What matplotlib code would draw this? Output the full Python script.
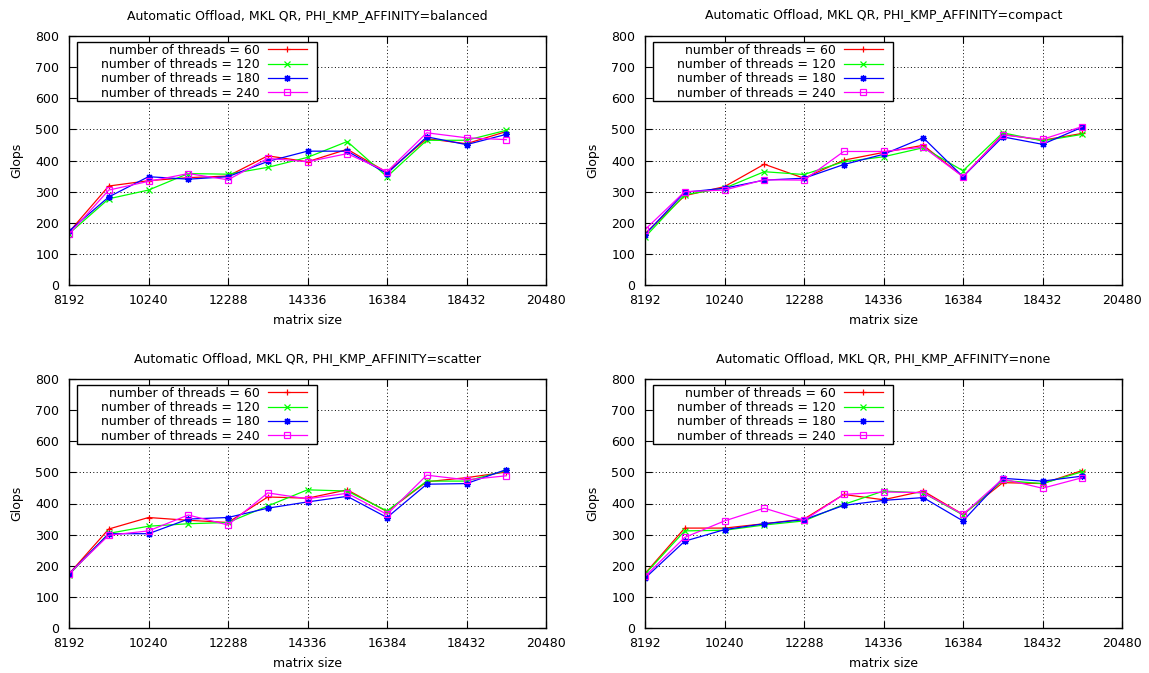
import matplotlib
matplotlib.use("Agg")
import matplotlib.pyplot as plt
from matplotlib.legend_handler import HandlerLine2D

# matrix sizes (x)
sizes = [8192, 9216, 10240, 11264, 12288, 13312, 14336, 15360, 16384, 17408, 18432, 19456]
threads = [60, 120, 180, 240]
affinities = ["balanced", "compact", "scatter", "none"]

# Glops per affinity, one list per thread count (60, 120, 180, 240)
balanced_60 = [170, 318, 335, 345, 350, 415, 396, 436, 362, 470, 454, 493]
balanced_120 = [165, 277, 305, 358, 356, 378, 410, 461, 348, 465, 465, 497]
balanced_180 = [173, 283, 348, 340, 348, 397, 430, 430, 358, 476, 451, 484]
balanced_240 = [163, 305, 333, 358, 338, 407, 396, 422, 364, 489, 473, 467]

compact_60 = [165, 287, 316, 388, 343, 401, 426, 449, 348, 484, 465, 487]
compact_120 = [154, 290, 311, 364, 355, 396, 412, 441, 367, 489, 463, 484]
compact_180 = [162, 298, 311, 337, 343, 387, 420, 473, 348, 476, 452, 507]
compact_240 = [178, 300, 305, 338, 337, 429, 429, 443, 348, 482, 468, 509]

scatter_60 = [174, 318, 355, 346, 339, 421, 417, 444, 374, 470, 483, 501]
scatter_120 = [171, 304, 327, 335, 339, 392, 444, 440, 376, 472, 472, 506]
scatter_180 = [174, 303, 303, 350, 355, 385, 405, 423, 355, 462, 464, 509]
scatter_240 = [174, 298, 312, 363, 331, 434, 415, 433, 365, 491, 476, 489]

none_60 = [175, 321, 321, 335, 350, 429, 412, 440, 365, 467, 464, 506]
none_120 = [173, 312, 314, 331, 344, 397, 440, 434, 363, 474, 464, 502]
none_180 = [160, 279, 316, 335, 348, 394, 410, 419, 344, 481, 472, 488]
none_240 = [166, 291, 344, 385, 346, 429, 437, 435, 365, 479, 449, 483]

data = {
    "balanced": [balanced_60, balanced_120, balanced_180, balanced_240],
    "compact": [compact_60, compact_120, compact_180, compact_240],
    "scatter": [scatter_60, scatter_120, scatter_180, scatter_240],
    "none": [none_60, none_120, none_180, none_240],
}

colors = ["#ff0000", "#00ff00", "#0000ff", "#ff00ff"]
markers = ["+", "x", (8, 2, 0), "s"]


class KeyHandler(HandlerLine2D):
    # shorter key line, leaves a gap before the right border (gnuplot look)
    def create_artists(self, legend, orig_handle, xdescent, ydescent, width, height, fontsize, trans):
        return super().create_artists(legend, orig_handle, xdescent, ydescent,
                                      width - 6.0, height, fontsize, trans)


plt.rcParams["font.family"] = "DejaVu Sans"

fig = plt.figure(figsize=(11.49, 6.73), dpi=100, facecolor="white")
W, H = 1149.0, 673.0
boxes = [(69, 36), (645, 36), (69, 379), (645, 379)]
aw, ah = 477, 249

for name, (px, py) in zip(affinities, boxes):
    ax = fig.add_axes([px / W, 1 - (py + ah) / H, aw / W, ah / H])
    lines = []
    for i, t in enumerate(threads):
        ln, = ax.plot(sizes, data[name][i], color=colors[i], marker=markers[i], lw=0.9,
                      ms=5, mew=0.9, mfc="none" if markers[i] == "s" else colors[i],
                      label="number of threads = %d" % t)
        lines.append(ln)
    ax.set_xlim(8192, 20480)
    ax.set_ylim(0, 800)
    ax.set_xticks(range(8192, 20481, 2048))
    ax.set_yticks(range(0, 801, 100))
    ax.grid(True, color="black", linestyle=(0, (1, 2.5)), linewidth=0.7)
    ax.tick_params(direction="in", top=True, right=True, length=5, labelsize=9, width=0.8)
    ax.tick_params(axis="x", pad=6.5)
    ax.tick_params(axis="y", pad=7)
    for s in ax.spines.values():
        s.set_linewidth(1.0)
    ax.set_xlabel("matrix size", fontsize=9, labelpad=5)
    ax.set_ylabel("Glops", fontsize=9, labelpad=9)
    ax.set_title("Automatic Offload, MKL QR, PHI_KMP_AFFINITY=%s" % name, fontsize=9, pad=12.5)

    leg = ax.legend(loc="upper left", bbox_to_anchor=(0.0168, 0.976), markerfirst=False,
                    fontsize=9, fancybox=False, framealpha=1, edgecolor="black",
                    handlelength=3.76, handletextpad=0.64, labelspacing=0.1,
                    borderpad=0.15, borderaxespad=0,
                    handler_map={ln: KeyHandler() for ln in lines})
    leg.get_frame().set_linewidth(1.0)
    # right-align the labels like gnuplot keys, fixed key width
    for col in leg._legend_handle_box.get_children():
        col.align = "right"
        col.width = 236

fig.savefig("out.png", dpi=100)
